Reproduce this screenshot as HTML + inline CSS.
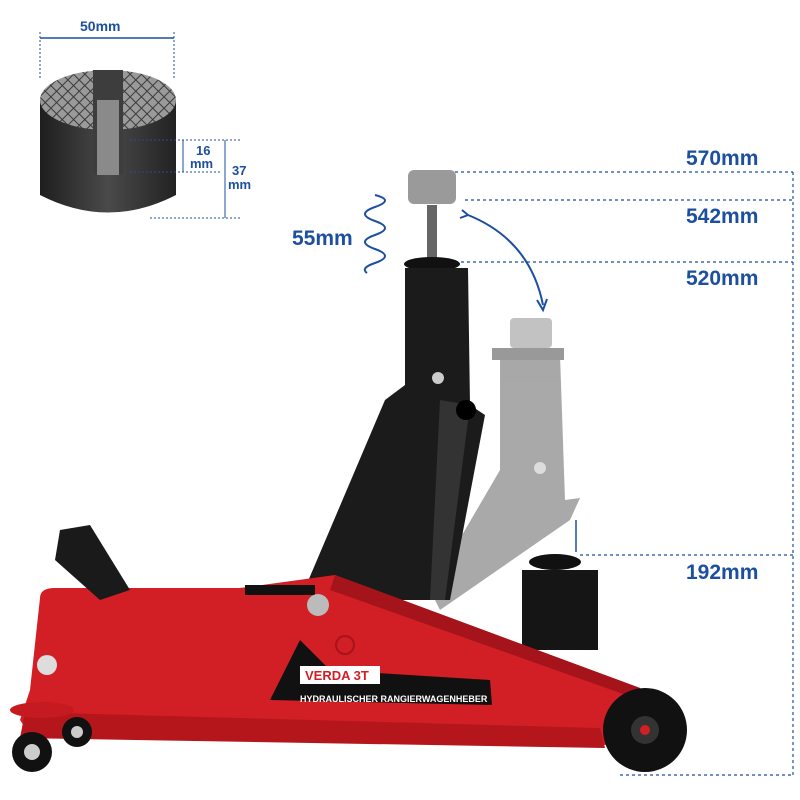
<!DOCTYPE html>
<html><head><meta charset="utf-8"><style>
html,body{margin:0;padding:0;background:#fff;}
svg{display:block}
text{font-family:"Liberation Sans",sans-serif;font-weight:bold;}
</style></head><body>
<svg width="800" height="800" viewBox="0 0 800 800" xmlns="http://www.w3.org/2000/svg">
<defs>
<pattern id="hatch" width="8" height="8" patternUnits="userSpaceOnUse" patternTransform="rotate(45)">
<rect width="8" height="8" fill="#9a9a9a"/>
<line x1="0" y1="0" x2="0" y2="8" stroke="#3a3a3a" stroke-width="2"/>
<line x1="0" y1="0" x2="8" y2="0" stroke="#3a3a3a" stroke-width="2"/>
</pattern>
<linearGradient id="body" x1="0" x2="1" y1="0" y2="0">
<stop offset="0" stop-color="#1e1e1e"/><stop offset="0.5" stop-color="#4a4a4a"/><stop offset="1" stop-color="#222"/>
</linearGradient>
</defs>
<rect width="800" height="800" fill="#fff"/>
<!-- rubber pad -->
<line x1="40" y1="38" x2="174" y2="38" stroke="#1c4fa0" stroke-width="1.5"/>
<line x1="40" y1="32" x2="40" y2="80" stroke="#1c4fa0" stroke-dasharray="2,2"/>
<line x1="174" y1="32" x2="174" y2="80" stroke="#1c4fa0" stroke-dasharray="2,2"/>
<text x="80" y="31" font-size="14" fill="#1c4fa0">50mm</text>
<path d="M40 100 L40 195 Q108 230 176 195 L176 100 Z" fill="url(#body)"/>
<ellipse cx="108" cy="100" rx="68" ry="30" fill="url(#hatch)"/>
<rect x="93" y="70" width="30" height="105" fill="#3d3d3d"/>
<rect x="97" y="100" width="22" height="75" fill="#8a8a8a"/>
<line x1="183" y1="140" x2="183" y2="172" stroke="#1c4fa0"/>
<line x1="225" y1="140" x2="225" y2="218" stroke="#1c4fa0"/>
<line x1="130" y1="140" x2="240" y2="140" stroke="#1c4fa0" stroke-dasharray="2,2"/>
<line x1="130" y1="172" x2="220" y2="172" stroke="#1c4fa0" stroke-dasharray="2,2"/>
<line x1="150" y1="218" x2="240" y2="218" stroke="#1c4fa0" stroke-dasharray="2,2"/>
<text x="196" y="155" font-size="13" fill="#1c4fa0">16</text>
<text x="190" y="168" font-size="13" fill="#1c4fa0">mm</text>
<text x="232" y="175" font-size="13" fill="#1c4fa0">37</text>
<text x="228" y="189" font-size="13" fill="#1c4fa0">mm</text>
<!-- dimension lines -->
<g stroke="#1c4fa0" stroke-width="1.2" stroke-dasharray="3,3">
<line x1="455" y1="172" x2="793" y2="172"/>
<line x1="465" y1="200" x2="793" y2="200"/>
<line x1="455" y1="262" x2="793" y2="262"/>
<line x1="580" y1="555" x2="793" y2="555"/>
<line x1="793" y1="172" x2="793" y2="775"/>
<line x1="620" y1="775" x2="793" y2="775"/>
</g>
<g font-size="21" fill="#1c4fa0">
<text x="686" y="165">570mm</text>
<text x="686" y="223">542mm</text>
<text x="686" y="285">520mm</text>
<text x="686" y="579">192mm</text>
<text x="292" y="245">55mm</text>
</g>
<path d="M375 195 q20 5 0 12 q-20 7 0 14 q20 7 0 14 q-20 7 0 14 q20 7 0 14 q-15 5 -8 10" fill="none" stroke="#1c4fa0" stroke-width="2"/>
<path d="M468 215 Q530 240 543 305" fill="none" stroke="#1c4fa0" stroke-width="2"/>
<path d="M537 300 L543 310 L547 299" fill="none" stroke="#1c4fa0" stroke-width="2"/>
<path d="M462 210 L468 215 L460 218" fill="none" stroke="#1c4fa0" stroke-width="2"/>
<line x1="576" y1="520" x2="576" y2="552" stroke="#1c4fa0" stroke-width="1.5"/>
<!-- gray ghost arm -->
<g fill="#9a9a9a" opacity="0.85">
<path d="M500 355 L560 355 L565 500 L580 498 L570 520 L440 610 L430 590 L500 470 Z"/>
<rect x="510" y="318" width="42" height="30" rx="4" fill="#b8b8b8"/>
<rect x="492" y="348" width="72" height="12" fill="#888"/>
</g>
<circle cx="540" cy="468" r="6" fill="#ddd"/>
<!-- saddle up -->
<rect x="427" y="205" width="10" height="55" fill="#666"/>
<rect x="408" y="170" width="48" height="34" rx="6" fill="#9a9a9a"/>
<ellipse cx="432" cy="264" rx="28" ry="7" fill="#111"/>
<!-- black arm -->
<path d="M405 268 L468 268 L470 405 L485 415 L450 600 L300 600 L385 400 L405 385 Z" fill="#1b1b1b"/>
<path d="M440 400 L470 405 L445 600 L430 600 Z" fill="#333"/>
<circle cx="438" cy="378" r="6" fill="#ccc"/>
<circle cx="466" cy="410" r="10" fill="#000"/>
<!-- lowered saddle -->
<rect x="522" y="570" width="76" height="80" fill="#151515"/>
<ellipse cx="555" cy="562" rx="26" ry="8" fill="#111"/>
<!-- red body -->
<path d="M40 598 Q40 588 55 588 L240 588 L335 575 L640 688 L648 720 L610 745 L30 735 L20 720 L30 690 Z" fill="#d21f26"/>
<path d="M335 575 L640 688 L640 700 L330 590 Z" fill="#a5141a"/>
<path d="M25 712 L600 728 L605 748 L20 738 Z" fill="#b5161c"/>
<!-- handle piece -->
<path d="M60 530 L90 525 L130 590 L100 600 L55 560 Z" fill="#1a1a1a"/>
<rect x="245" y="585" width="70" height="10" fill="#111"/>
<circle cx="318" cy="605" r="11" fill="#bbb"/>
<circle cx="345" cy="645" r="9" fill="none" stroke="#a5141a" stroke-width="2"/>
<circle cx="47" cy="665" r="10" fill="#ddd"/>
<!-- logo -->
<path d="M270 700 L300 640 L330 670 L490 680 L492 705 Z" fill="#111"/>
<rect x="300" y="666" width="80" height="18" fill="#fff"/>
<text x="305" y="680" font-size="13" fill="#d21f26">VERDA 3T</text>
<text x="300" y="702" font-size="9" fill="#fff">HYDRAULISCHER RANGIERWAGENHEBER</text>
<!-- wheels -->
<circle cx="645" cy="730" r="42" fill="#111"/>
<circle cx="645" cy="730" r="14" fill="#333"/>
<circle cx="645" cy="730" r="5" fill="#d21f26"/>
<ellipse cx="42" cy="710" rx="32" ry="8" fill="#c51a20"/>
<circle cx="32" cy="752" r="20" fill="#111"/>
<circle cx="32" cy="752" r="8" fill="#ccc"/>
<circle cx="77" cy="732" r="15" fill="#111"/>
<circle cx="77" cy="732" r="6" fill="#ccc"/>
</svg>
</body></html>
